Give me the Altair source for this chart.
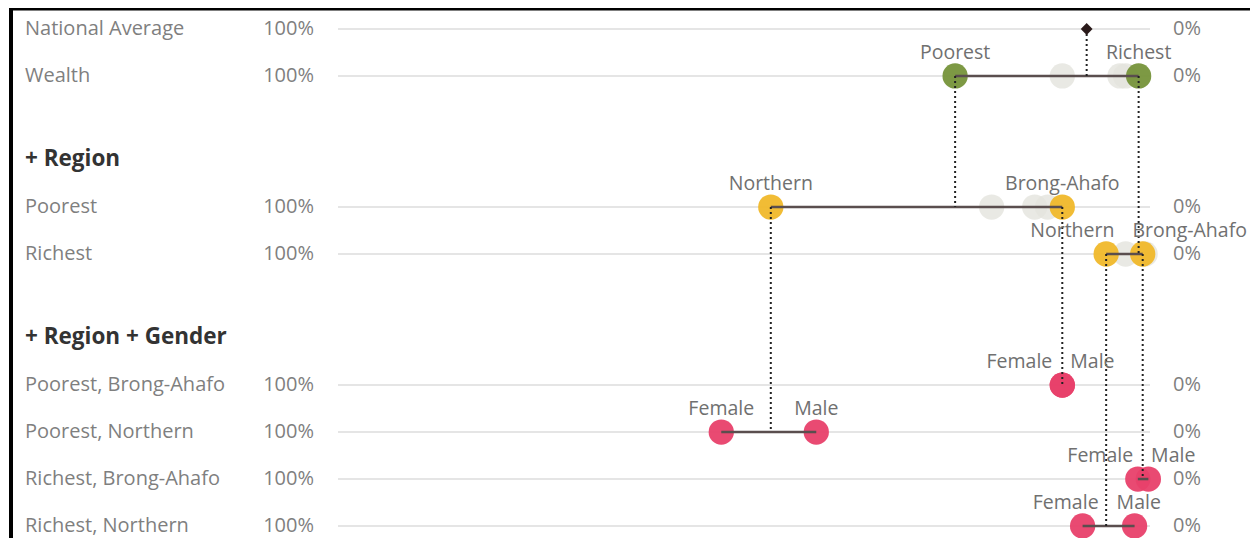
import altair as alt
import pandas as pd

# ---------------- data ----------------
row_keys = ["National Average", "Wealth", "+ Region", "Poorest", "Richest",
            "+ Region + Gender", "Poorest, Brong-Ahafo", "Poorest, Northern",
            "Richest, Brong-Ahafo", "Richest, Northern"]
row_is_heading = [False, False, True, False, False, True, False, False, False, False]

national_average = 7.8

wealth_labels = ["Poorest", "Richest"]
wealth_values = [24.0, 1.4]

region_labels = ["Northern", "Brong-Ahafo"]
region_poorest_values = [46.7, 10.8]
region_richest_values = [5.4, 0.9]

gender_labels = ["Female", "Male"]
gender_pba_values = [10.8, 10.8]
gender_pn_values = [52.8, 41.1]
gender_rba_values = [1.5, 0.2]
gender_rn_values = [8.3, 1.9]

# grey "other" markers behind
ghost_wealth = [10.8, 3.7, 3.0]
ghost_region_poorest = [19.5, 14.2, 12.6]
ghost_region_richest = [3.0, 0.6]

left_tick = "100%"
right_tick = "0%"

group_colors = {"Wealth": "#76943a", "Region": "#f0b82a", "Gender": "#e8406a"}

# ---------------- layout helpers ----------------
SECTION_GAP = 1.76
HEAD_GAP = 1.03
pos = []
cur = 0.0
for i, h in enumerate(row_is_heading):
    if i == 0:
        cur = 0.0
    elif h:
        cur = cur + SECTION_GAP
    elif row_is_heading[i - 1]:
        cur = cur + HEAD_GAP
    else:
        cur = cur + 1.0
    pos.append(cur)
row_pos = dict(zip(row_keys, pos))

X_RANGE = [330, 1142]
PX_PER_PCT = (X_RANGE[1] - X_RANGE[0]) / 100.0

rows_df = pd.DataFrame({"row": row_keys, "pos": pos, "heading": row_is_heading})
data_rows = rows_df[~rows_df["heading"]].copy()
data_rows["lo"] = 100
data_rows["hi"] = 0
data_rows["ltick"] = left_tick
data_rows["rtick"] = right_tick
head_rows = rows_df[rows_df["heading"]].copy()

series = [
    ("Wealth", "Wealth", wealth_labels, wealth_values),
    ("Poorest", "Region", region_labels, region_poorest_values),
    ("Richest", "Region", region_labels, region_richest_values),
    ("Poorest, Brong-Ahafo", "Gender", gender_labels, gender_pba_values),
    ("Poorest, Northern", "Gender", gender_labels, gender_pn_values),
    ("Richest, Brong-Ahafo", "Gender", gender_labels, gender_rba_values),
    ("Richest, Northern", "Gender", gender_labels, gender_rn_values),
]

pts = []
lines = []
for row, grp, labs, vals in series:
    li = 0 if vals[0] >= vals[1] else 1
    ri = 1 - li
    gap_px = (vals[li] - vals[ri]) * PX_PER_PCT
    wl = 11 * len(labs[li])
    wr = 11 * len(labs[ri])
    split = gap_px < (wl + wr) / 2 + 6
    mid = (vals[li] + vals[ri]) / 2
    for k in (li, ri):
        if split:
            align = "right" if k == li else "left"
            lx = mid
        else:
            align = "center"
            lx = vals[k]
        pts.append({"row": row, "pos": row_pos[row], "group": grp, "label": labs[k],
                    "value": vals[k], "lx": lx, "align": align})
    lines.append({"row": row, "pos": row_pos[row], "a": vals[li], "b": vals[ri]})
pts_df = pd.DataFrame(pts)
lines_df = pd.DataFrame(lines)

ghosts = []
for row, vals in [("Wealth", ghost_wealth), ("Poorest", ghost_region_poorest),
                  ("Richest", ghost_region_richest)]:
    for v in vals:
        ghosts.append({"row": row, "pos": row_pos[row], "value": v})
ghost_df = pd.DataFrame(ghosts)

links = [
    (national_average, "National Average", "Wealth"),
    (wealth_values[0], "Wealth", "Poorest"),
    (wealth_values[1], "Wealth", "Richest"),
    (region_poorest_values[0], "Poorest", "Poorest, Northern"),
    (region_poorest_values[1], "Poorest", "Poorest, Brong-Ahafo"),
    (region_richest_values[0], "Richest", "Richest, Northern"),
    (region_richest_values[1], "Richest", "Richest, Brong-Ahafo"),
]
links_df = pd.DataFrame([{"value": v, "p1": row_pos[a], "p2": row_pos[b]} for v, a, b in links])
avg_df = pd.DataFrame([{"value": national_average, "pos": row_pos["National Average"]}])

# ---------------- scales ----------------
FONT = "Open Sans"
xs = alt.Scale(domain=[100, 0], range=X_RANGE)
ys = alt.Scale(domain=[min(pos), max(pos)], range=[21, 518])
X = lambda f: alt.X(f, type="quantitative", scale=xs, axis=None)
Y = lambda f: alt.Y(f, type="quantitative", scale=ys, axis=None)

grid = alt.Chart(data_rows).mark_rule(color="#dcdcdc", strokeWidth=1.5).encode(
    x=X("lo"), x2="hi", y=Y("pos"))

row_text = alt.Chart(data_rows).mark_text(
    align="left", baseline="middle", font=FONT, fontSize=20, color="#7f7f7f").encode(
    x=alt.value(17), y=Y("pos"), text="row:N")
ltick = alt.Chart(data_rows).mark_text(
    align="right", baseline="middle", font=FONT, fontSize=20, color="#7f7f7f").encode(
    x=alt.value(306), y=Y("pos"), text="ltick:N")
rtick = alt.Chart(data_rows).mark_text(
    align="left", baseline="middle", font=FONT, fontSize=20, color="#7f7f7f").encode(
    x=alt.value(1165), y=Y("pos"), text="rtick:N")
heads = alt.Chart(head_rows).mark_text(
    align="left", baseline="middle", font=FONT, fontSize=22.5, fontWeight="bold",
    color="#333333").encode(x=alt.value(17), y=Y("pos"), text="row:N")

ghost = alt.Chart(ghost_df).mark_circle(size=640, color="#e3e3dd", opacity=0.8).encode(
    x=X("value"), y=Y("pos"))

dots = alt.Chart(pts_df).mark_circle(size=640, opacity=0.95).encode(
    x=X("value"), y=Y("pos"),
    color=alt.Color("group:N", legend=None,
                    scale=alt.Scale(domain=list(group_colors.keys()),
                                    range=list(group_colors.values()))))

conn = alt.Chart(lines_df).mark_rule(color="#5a4e4e", strokeWidth=2.5).encode(
    x=X("a"), x2="b", y=Y("pos"))

link = alt.Chart(links_df).mark_rule(color="#222222", strokeWidth=2, strokeDash=[2, 3]).encode(
    x=X("value"), y=Y("p1"), y2="p2")

avg = alt.Chart(avg_df).mark_point(shape="diamond", filled=True, size=140,
                                    color="#2a1a1a", opacity=1).encode(
    x=X("value"), y=Y("pos"))

def lab_layer(al, dx):
    return alt.Chart(pts_df).transform_filter(alt.datum.align == al).mark_text(
        align=al, baseline="middle", dy=-23, dx=dx, font=FONT, fontSize=19.5,
        color="#707070").encode(x=X("lx"), y=Y("pos"), text="label:N")

labs = lab_layer("center", 0) + lab_layer("right", -10) + lab_layer("left", 8)

frame_top = alt.Chart(avg_df).mark_rule(color="#000000", strokeWidth=5).encode(
    x=alt.value(1), x2=alt.value(1250), y=alt.value(0))
frame_left = alt.Chart(avg_df).mark_rule(color="#000000", strokeWidth=4).encode(
    x=alt.value(3), y=alt.value(0), y2=alt.value(540))

chart = alt.layer(grid, ghost, dots, conn, link, avg, labs, row_text, ltick, rtick,
                  heads, frame_top, frame_left).properties(
    width=1242, height=530, padding=0,
    autosize=alt.AutoSizeParams(type="none"),
).configure_view(stroke=None)

chart.save("out.html", embed_options={"renderer": "svg", "actions": False})
